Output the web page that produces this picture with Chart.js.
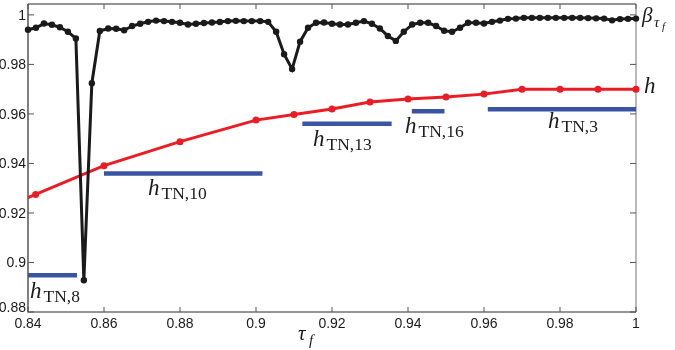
<!DOCTYPE html>
<html lang="en">

<head>
    <meta charset="UTF-8">
    <title>beta and h versus tau_f</title>
    <script src="https://cdn.jsdelivr.net/npm/chart.js@4.4.1/dist/chart.umd.min.js"></script>
    <style>
        body { margin: 0; background: #fff; }
        #plot { display: block; }
    </style>
</head>

<body>
    <canvas id="plot" width="675" height="350"></canvas>

    <script>
        // tau_f sample points of the beta curve
        const tauGrid = [
            0.8400, 0.8421, 0.8442, 0.8463, 0.8484, 0.8505, 0.8526, 0.8547, 0.8568, 0.8589,
            0.8611, 0.8632, 0.8653, 0.8674, 0.8695, 0.8716, 0.8737, 0.8758, 0.8779, 0.8800,
            0.8821, 0.8842, 0.8863, 0.8884, 0.8905, 0.8926, 0.8947, 0.8968, 0.8989, 0.9011,
            0.9032, 0.9053, 0.9074, 0.9095, 0.9116, 0.9137, 0.9158, 0.9179, 0.9200, 0.9221,
            0.9242, 0.9263, 0.9284, 0.9305, 0.9326, 0.9347, 0.9368, 0.9389, 0.9411, 0.9432,
            0.9453, 0.9474, 0.9495, 0.9516, 0.9537, 0.9558, 0.9579, 0.9600, 0.9621, 0.9642,
            0.9663, 0.9684, 0.9705, 0.9726, 0.9747, 0.9768, 0.9789, 0.9811, 0.9832, 0.9853,
            0.9874, 0.9895, 0.9916, 0.9937, 0.9958, 0.9979, 1.0000
        ];
        const betaValues = [
            0.9940, 0.9948, 0.9965, 0.9960, 0.9950, 0.9932, 0.9905, 0.8928, 0.9724, 0.9935,
            0.9945, 0.9944, 0.9938, 0.9955, 0.9964, 0.9972, 0.9977, 0.9975, 0.9972, 0.9968,
            0.9961, 0.9964, 0.9967, 0.9969, 0.9971, 0.9975, 0.9976, 0.9975, 0.9975, 0.9975,
            0.9972, 0.9932, 0.9841, 0.9781, 0.9892, 0.9948, 0.9968, 0.9969, 0.9964, 0.9961,
            0.9961, 0.9968, 0.9975, 0.9964, 0.9945, 0.9915, 0.9895, 0.9932, 0.9961, 0.9968,
            0.9968, 0.9955, 0.9936, 0.9932, 0.9948, 0.9968, 0.9968, 0.9965, 0.9972, 0.9977,
            0.9984, 0.9985, 0.9988, 0.9988, 0.9988, 0.9988, 0.9988, 0.9988, 0.9988, 0.9988,
            0.9987, 0.9986, 0.9985, 0.9978, 0.9983, 0.9984, 0.9985
        ];

        // h curve
        const hTau = [0.836, 0.842, 0.86, 0.88, 0.90, 0.91, 0.92, 0.93, 0.94, 0.95, 0.96, 0.97, 0.98, 0.99, 1.0];
        const hValues = [0.9236, 0.9275, 0.9391, 0.9488, 0.9575, 0.9598, 0.9620, 0.9648, 0.9660, 0.9668, 0.9680, 0.9700, 0.9700, 0.9700, 0.9700];

        // h_TN,k levels (horizontal segments)
        const tnNames = ['8', '10', '13', '16', '3'];
        const tnStart = [0.840, 0.860, 0.9122, 0.941, 0.961];
        const tnEnd = [0.8529, 0.9017, 0.9357, 0.9496, 1.0];
        const tnLevel = [0.8948, 0.9359, 0.9560, 0.9611, 0.9619];

        const xTicks = [0.84, 0.86, 0.88, 0.90, 0.92, 0.94, 0.96, 0.98, 1.0];
        const xTickLabels = ['0.84', '0.86', '0.88', '0.9', '0.92', '0.94', '0.96', '0.98', '1'];
        const yTicks = [0.88, 0.90, 0.92, 0.94, 0.96, 0.98, 1.0];
        const yTickLabels = ['0.88', '0.9', '0.92', '0.94', '0.96', '0.98', '1'];

        const sansFont = '"Liberation Sans", Arial, sans-serif';
        const serifFont = '"Liberation Serif", "Times New Roman", serif';

        // h with a roman subscript, placed at (x, baseline)
        function drawHSub(ctx, x, y, sub) {
            ctx.font = 'italic 23px ' + serifFont;
            ctx.fillText('h', x, y);
            const w = ctx.measureText('h').width;
            ctx.font = '17.5px ' + serifFont;
            ctx.fillText(sub, x + w + 2, y + 4);
        }

        // matlab style box, inward ticks and all the text
        const matlabAxes = {
            id: 'matlabAxes',
            beforeDatasetsDraw(chart) {
                const { ctx, chartArea: a, scales: { x, y } } = chart;
                ctx.save();
                ctx.lineWidth = 1.2;
                ctx.strokeStyle = '#8a8a8a';
                ctx.beginPath();
                ctx.moveTo(a.right, a.top);
                ctx.lineTo(a.right, a.bottom);
                ctx.stroke();
                ctx.strokeStyle = '#2a2a2a';
                ctx.beginPath();
                ctx.moveTo(a.left, a.top);
                ctx.lineTo(a.right, a.top);
                ctx.moveTo(a.left, a.top);
                ctx.lineTo(a.left, a.bottom);
                ctx.lineTo(a.right, a.bottom);
                ctx.stroke();

                ctx.lineWidth = 1;
                ctx.strokeStyle = '#555';
                xTicks.forEach(v => {
                    const px = x.getPixelForValue(v);
                    ctx.beginPath();
                    ctx.moveTo(px, a.bottom);
                    ctx.lineTo(px, a.bottom - 5);
                    ctx.moveTo(px, a.top);
                    ctx.lineTo(px, a.top + 5);
                    ctx.stroke();
                });
                yTicks.forEach(v => {
                    const py = y.getPixelForValue(v);
                    ctx.beginPath();
                    ctx.moveTo(a.left, py);
                    ctx.lineTo(a.left + 6, py);
                    ctx.moveTo(a.right, py);
                    ctx.lineTo(a.right - 6, py);
                    ctx.stroke();
                });
                ctx.restore();
            },
            afterDatasetsDraw(chart) {
                const { ctx, chartArea: a, scales: { x, y } } = chart;
                ctx.save();
                ctx.fillStyle = '#1a1a1a';

                // tick labels
                ctx.font = '14px ' + sansFont;
                ctx.textAlign = 'center';
                ctx.textBaseline = 'alphabetic';
                xTicks.forEach((v, i) => {
                    ctx.fillText(xTickLabels[i], x.getPixelForValue(v), a.bottom + 16);
                });
                ctx.textAlign = 'right';
                yTicks.forEach((v, i) => {
                    let py = y.getPixelForValue(v) + 5;
                    if (i === 0) py -= 5;
                    ctx.fillText(yTickLabels[i], a.left - 2, py);
                });

                // axis title tau_f
                ctx.textAlign = 'left';
                ctx.font = 'italic 21px ' + serifFont;
                ctx.fillText('τ', 298, 340);
                ctx.font = 'italic 15px ' + serifFont;
                ctx.fillText('f', 309, 345);

                // curve names on the right
                ctx.font = 'italic 21px ' + serifFont;
                ctx.fillText('β', 642, 22);
                ctx.font = 'italic 15px ' + serifFont;
                ctx.fillText('τ', 654, 27);
                ctx.font = 'italic 11px ' + serifFont;
                ctx.fillText('f', 662, 30);
                ctx.font = 'italic 23px ' + serifFont;
                ctx.fillText('h', 644, 93);

                // h_TN labels
                const labelPos = [[30, 298], [148, 195], [313, 146], [405, 133], [548, 128]];
                tnNames.forEach((n, i) => {
                    drawHSub(ctx, labelPos[i][0], labelPos[i][1], 'TN,' + n);
                });
                ctx.restore();
            }
        };

        const datasets = [
            {
                label: 'beta',
                data: tauGrid.map((t, i) => ({ x: t, y: betaValues[i] })),
                borderColor: '#1a1a1a',
                backgroundColor: '#1a1a1a',
                borderWidth: 3,
                pointRadius: 3.2,
                pointBorderWidth: 0,
                showLine: true,
                clip: { left: 6, top: 6, right: 6, bottom: 0 }
            },
            {
                label: 'h',
                data: hTau.map((t, i) => ({ x: t, y: hValues[i] })),
                borderColor: '#ec1c24',
                backgroundColor: '#ec1c24',
                borderWidth: 3,
                pointRadius: 3.5,
                pointBorderWidth: 0,
                showLine: true,
                clip: { left: 0, top: 6, right: 6, bottom: 6 }
            }
        ];
        tnNames.forEach((n, i) => {
            datasets.push({
                label: 'hTN,' + n,
                data: [{ x: tnStart[i], y: tnLevel[i] }, { x: tnEnd[i], y: tnLevel[i] }],
                borderColor: '#3a54a4',
                borderWidth: 4.5,
                borderCapStyle: 'butt',
                pointRadius: 0,
                showLine: true,
                clip: { left: 0, top: 0, right: 0, bottom: 0 }
            });
        });

        new Chart(document.getElementById('plot').getContext('2d'), {
            type: 'scatter',
            data: { datasets },
            options: {
                responsive: false,
                animation: false,
                devicePixelRatio: 1,
                layout: { padding: { left: 28, right: 39, top: 1, bottom: 38 } },
                elements: { line: { tension: 0 } },
                plugins: { legend: { display: false }, tooltip: { enabled: false } },
                scales: {
                    x: { type: 'linear', min: 0.84, max: 1.0, display: false },
                    y: { type: 'linear', min: 0.88, max: 1.0044, display: false }
                }
            },
            plugins: [matlabAxes]
        });
    </script>
</body>

</html>
